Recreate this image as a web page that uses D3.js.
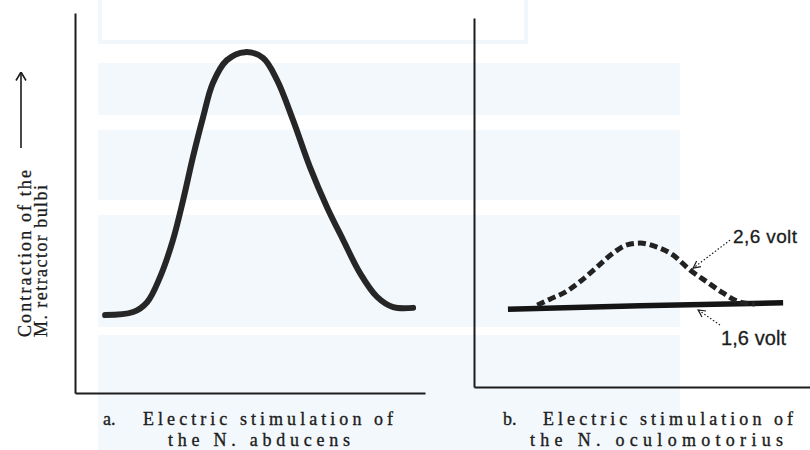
<!DOCTYPE html>
<html>
<head>
<meta charset="utf-8">
<script src="https://cdn.jsdelivr.net/npm/d3@7/dist/d3.min.js"></script>
<style>
  html, body { margin: 0; padding: 0; background: #fff; }
  svg { display: block; }
</style>
</head>
<body>
<svg id="chart" width="810" height="450"></svg>
<script>
// ---------- data (arbitrary units 0–100) ----------
// Panel a: N. abducens stimulation
const abducensX = [8.6, 16.6, 20.6, 24.3, 28.0, 30.9, 33.7, 36.6, 39.4, 43.4, 48.6, 53.7, 57.7, 62.3, 67.1, 72.0, 76.6, 81.4, 86.3, 90.9, 96.6];
const abducensY = [20.5, 21.3, 23.9, 30.5, 40.3, 50.8, 62.1, 72.6, 81.6, 87.6, 89.7, 88.2, 82.4, 71.8, 59.5, 48.9, 40.3, 31.6, 25.3, 22.6, 22.4];

// Panel b: N. oculomotorius stimulation
const volt16X = [10.1, 49.4, 92.0];
const volt16Y = [21.1, 22.0, 22.8];
const volt26X = [18.8, 22.6, 27.7, 31.5, 36.6, 41.4, 45.5, 49.4, 54.5, 59.2, 64.3, 69.3, 74.1, 79.2, 83.6];
const volt26Y = [22.2, 23.8, 26.0, 28.5, 32.5, 36.3, 38.5, 39.0, 37.9, 35.8, 31.7, 28.5, 25.5, 23.0, 22.5];

// annotation labels with leader (tail -> tip) in panel b data units
const annLabels = ["2,6 volt", "1,6 volt"];
const annTipX  = [65.2, 66.7];
const annTipY  = [32.2, 20.9];
const annTailX = [76.2, 73.2];
const annTailY = [39.8, 16.8];

const yLabelLines = ["Contraction of the", "M. retractor bulbi"];
const captionA = ["a.", "Electric stimulation of", "the N. abducens"];
const captionB = ["b.", "Electric stimulation of", "the N. oculomotorius"];

// ---------- drawing ----------
const svg = d3.select("#chart");
const ink = "#1c1c1c";
const serif = "'Liberation Serif', 'DejaVu Serif', serif";
const sans = "'Liberation Sans', Arial, sans-serif";

// faint scan watermark background
const wm = svg.append("g");
wm.append("rect").attr("x", 100).attr("y", -4).attr("width", 426).attr("height", 46)
  .attr("fill", "none").attr("stroke", "#f1f7fb").attr("stroke-width", 4);
[[98, 63, 582, 52], [98, 130, 582, 70], [98, 215, 582, 112], [98, 335, 582, 115]]
  .forEach(r => wm.append("rect").attr("x", r[0]).attr("y", r[1]).attr("width", r[2]).attr("height", r[3])
    .attr("fill", "#f3f8fc"));

// scales
const xA = d3.scaleLinear().domain([0, 100]).range([75, 425]);
const yA = d3.scaleLinear().domain([0, 100]).range([393, 13]);
const xB = d3.scaleLinear().domain([0, 100]).range([474, 810]);
const yB = d3.scaleLinear().domain([0, 100]).range([387, 18]);

function drawAxes(x, y) {
  const gx = svg.append("g").attr("transform", `translate(0,${y(0)})`)
    .call(d3.axisBottom(x).tickValues([]).tickSizeOuter(0));
  const gy = svg.append("g").attr("transform", `translate(${x(0)},0)`)
    .call(d3.axisLeft(y).tickValues([]).tickSizeOuter(0));
  [gx, gy].forEach(g => g.select(".domain").attr("stroke", ink).attr("stroke-width", 2));
}
drawAxes(xA, yA);
drawAxes(xB, yB);

const lineA = d3.line().x(d => xA(d[0])).y(d => yA(d[1])).curve(d3.curveCatmullRom.alpha(0.5));
const lineB = d3.line().x(d => xB(d[0])).y(d => yB(d[1])).curve(d3.curveMonotoneX);

svg.append("path")
  .datum(d3.zip(abducensX, abducensY))
  .attr("d", lineA).attr("fill", "none").attr("stroke", "#262626")
  .attr("stroke-width", 6).attr("stroke-linecap", "round").attr("stroke-linejoin", "round");

svg.append("path")
  .datum(d3.zip(volt16X, volt16Y))
  .attr("d", lineB).attr("fill", "none").attr("stroke", "#151515")
  .attr("stroke-width", 5.5).attr("stroke-linecap", "butt");

svg.append("path")
  .datum(d3.zip(volt26X, volt26Y))
  .attr("d", lineB).attr("fill", "none").attr("stroke", "#222")
  .attr("stroke-width", 5).attr("stroke-dasharray", "8,4");

// arrow markers (open chevrons)
const defs = svg.append("defs");
defs.append("marker")
  .attr("id", "chev").attr("viewBox", "0 0 10 10").attr("refX", 9).attr("refY", 5)
  .attr("markerWidth", 9).attr("markerHeight", 9).attr("markerUnits", "userSpaceOnUse")
  .attr("orient", "auto")
  .append("path").attr("d", "M1,1 L9,5 L1,9").attr("fill", "none").attr("stroke", ink).attr("stroke-width", 1.3);
defs.append("marker")
  .attr("id", "chevBig").attr("viewBox", "0 0 10 12").attr("refX", 9.5).attr("refY", 6)
  .attr("markerWidth", 10).attr("markerHeight", 12).attr("markerUnits", "userSpaceOnUse")
  .attr("orient", "auto")
  .append("path").attr("d", "M1,1 Q6,4 9.5,6 Q6,8 1,11").attr("fill", "none").attr("stroke", ink).attr("stroke-width", 1.6);

annLabels.forEach((t, i) => {
  svg.append("line")
    .attr("x1", xB(annTailX[i])).attr("y1", yB(annTailY[i]))
    .attr("x2", xB(annTipX[i])).attr("y2", yB(annTipY[i]))
    .attr("stroke", ink).attr("stroke-width", 1.2).attr("stroke-dasharray", "1.5,2")
    .attr("marker-end", "url(#chev)");
});
svg.append("text").attr("x", 733).attr("y", 243).text(annLabels[0])
  .attr("font-family", sans).attr("font-size", 19).attr("textLength", 64)
  .attr("fill", ink).attr("stroke", ink).attr("stroke-width", 0.3);
svg.append("text").attr("x", 721).attr("y", 345).text(annLabels[1])
  .attr("font-family", sans).attr("font-size", 20).attr("textLength", 65)
  .attr("fill", ink).attr("stroke", ink).attr("stroke-width", 0.3);

// y-axis label with arrow
const yl = svg.append("g").attr("font-family", serif).attr("font-size", 18)
  .attr("fill", ink).attr("stroke", ink).attr("stroke-width", 0.3);
yl.append("text").attr("transform", "translate(31,337) rotate(-90)").attr("textLength", 167).text(yLabelLines[0]);
yl.append("text").attr("transform", "translate(47,337) rotate(-90)").attr("textLength", 152).text(yLabelLines[1]);
svg.append("line").attr("x1", 21).attr("y1", 148).attr("x2", 21).attr("y2", 72)
  .attr("stroke", ink).attr("stroke-width", 1.6).attr("marker-end", "url(#chevBig)");

// captions
function caption(c, xLetter, x1, w1, x2, w2) {
  const g = svg.append("g").attr("font-family", serif).attr("font-size", 18)
    .attr("fill", ink).attr("stroke", ink).attr("stroke-width", 0.35);
  g.append("text").attr("x", xLetter).attr("y", 425).text(c[0]);
  g.append("text").attr("x", x1).attr("y", 425).attr("textLength", w1).text(c[1]);
  g.append("text").attr("x", x2).attr("y", 446).attr("textLength", w2).text(c[2]);
}
caption(captionA, 103, 143, 250, 168, 182);
caption(captionB, 503, 543, 250, 530, 253);
</script>
</body>
</html>
